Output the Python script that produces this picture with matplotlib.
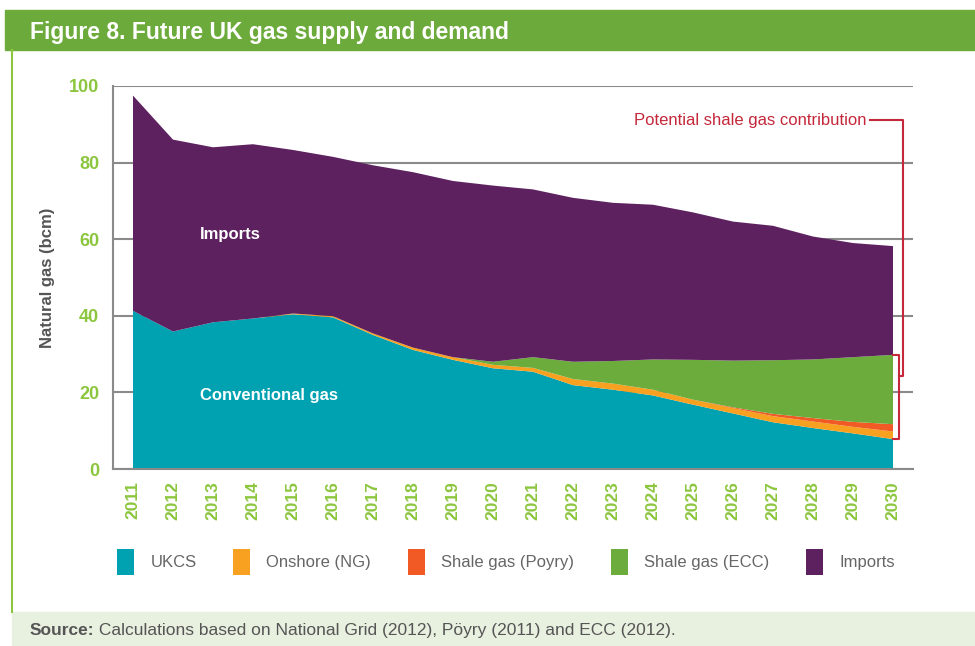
import matplotlib
matplotlib.use("Agg")
import matplotlib.pyplot as plt
from matplotlib.patches import Patch, Rectangle
from matplotlib.lines import Line2D

years = list(range(2011, 2031))
ukcs = [41.3, 35.9, 38.3, 39.3, 40.4, 39.6, 35.0, 31.1, 28.5, 26.3,
        25.4, 21.9, 20.7, 19.2, 16.8, 14.5, 12.2, 10.7, 9.3, 7.8]
onshore = [0.0, 0.0, 0.0, 0.0, 0.2, 0.3, 0.4, 0.6, 0.7, 0.9,
           1.0, 1.6, 1.6, 1.5, 1.3, 1.4, 1.6, 1.7, 1.7, 2.0]
shale_poyry = [0.0, 0.0, 0.0, 0.0, 0.0, 0.0, 0.0, 0.0, 0.0, 0.0,
               0.0, 0.0, 0.0, 0.0, 0.0, 0.2, 0.6, 0.9, 1.3, 1.9]
shale_ecc = [0.0, 0.0, 0.0, 0.0, 0.0, 0.0, 0.0, 0.0, 0.0, 0.8,
             2.8, 4.5, 5.9, 7.9, 10.4, 12.2, 14.0, 15.3, 16.9, 18.1]
imports = [56.2, 50.1, 45.7, 45.5, 42.7, 41.6, 43.9, 45.8, 46.0, 46.0,
           43.8, 42.8, 41.3, 40.4, 38.5, 36.3, 35.1, 32.1, 29.8, 28.4]

series_labels = ["UKCS", "Onshore (NG)", "Shale gas (Poyry)", "Shale gas (ECC)", "Imports"]
colors = ["#00a2b1", "#f8a01f", "#f15a24", "#6cac3c", "#5d2160"]

green = "#6cab3b"
tick_green = "#8cc63e"
grey_text = "#555555"
red = "#c4283a"

plt.rcParams["font.family"] = ["Liberation Sans", "DejaVu Sans"]

fig = plt.figure(figsize=(9.75, 6.46), dpi=100)
W, H = 975.0, 646.0

# header band + frame decorations
fig.add_artist(Rectangle((5 / W, 1 - 50 / H), 1, 40 / H, transform=fig.transFigure,
                         color=green, zorder=0))
fig.text(30 / W, 1 - 32 / H, "Figure 8. Future UK gas supply and demand",
         color="white", fontsize=16.5, fontweight="bold", va="center")
fig.add_artist(Line2D([12 / W, 12 / W], [1 - 50 / H, 1 - 612 / H],
                      transform=fig.transFigure, color="#8dc63f", lw=1.5))
fig.add_artist(Rectangle((12 / W, 0), 1, 34 / H, transform=fig.transFigure,
                         color="#e8f0e0", zorder=0))

ax = fig.add_axes([113 / W, 1 - 469 / H, 800 / W, 383 / H])
ax.stackplot(years, ukcs, onshore, shale_poyry, shale_ecc, imports,
             colors=colors, labels=series_labels, linewidth=0)

ax.set_xlim(2010.5, 2030.5)
ax.set_ylim(0, 100)
ax.set_yticks(range(0, 101, 20))
ax.set_xticks(years)
ax.set_xticklabels([str(y) for y in years], rotation=90)
ax.set_axisbelow(True)
ax.yaxis.grid(True, color="#8a8a8a", lw=1.5)
for s in ["top", "right"]:
    ax.spines[s].set_visible(False)
for s in ["left", "bottom"]:
    ax.spines[s].set_color("#8a8a8a")
    ax.spines[s].set_linewidth(1.5)
ax.tick_params(length=0, colors=tick_green, labelsize=13)
ax.tick_params(axis="x", pad=9, labelsize=12.5)
ax.tick_params(axis="y", pad=10)
for lbl in ax.get_xticklabels() + ax.get_yticklabels():
    lbl.set_fontweight("bold")
ax.set_ylabel("Natural gas (bcm)", fontsize=12, color=grey_text, fontweight="bold", labelpad=10)

ax.text(2012.67, 61.1, "Imports", color="white", fontsize=12, fontweight="bold", va="center")
ax.text(2012.67, 19.1, "Conventional gas", color="white", fontsize=12, fontweight="bold", va="center")

# shale contribution bracket
shale_top = ukcs[-1] + onshore[-1] + shale_poyry[-1] + shale_ecc[-1]
shale_bottom = ukcs[-1]
ax.plot([2030.0, 2030.15, 2030.15, 2030.0], [shale_top, shale_top, shale_bottom, shale_bottom],
        color=red, lw=1.5, clip_on=False)
ax.plot([2029.42, 2030.25, 2030.25, 2030.15], [91.1, 91.1, 24.3, 24.3],
        color=red, lw=1.5, clip_on=False)
ax.text(2029.35, 91.1, "Potential shale gas contribution", ha="right", va="center",
        color=red, fontsize=12)

handles = [Patch(facecolor=c, edgecolor="none") for c in colors]
fig.legend(handles, series_labels, loc="center", bbox_to_anchor=(506 / W, 1 - 562 / H),
           ncol=5, frameon=False, fontsize=12, labelcolor="#666666",
           handlelength=1.0, handleheight=2.0, handletextpad=1.0, columnspacing=2.2)

src = fig.text(30 / W, 1 - 638 / H, "Source:", fontsize=12.5, fontweight="bold",
               color=grey_text, va="bottom")
ax.annotate(" Calculations based on National Grid (2012), Pöyry (2011) and ECC (2012).",
            xy=(1, 0), xycoords=src, va="bottom", ha="left", fontsize=12.5,
            color=grey_text, annotation_clip=False)

fig.savefig("out.png", dpi=100)
